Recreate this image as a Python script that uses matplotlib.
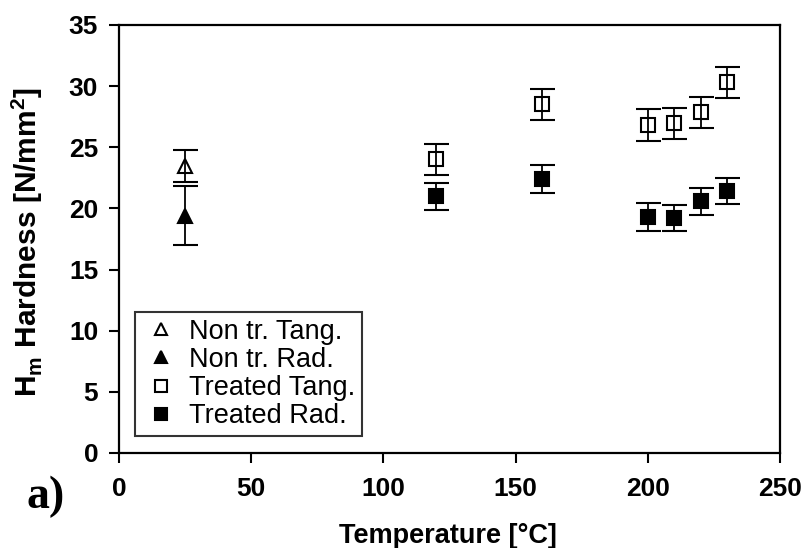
import matplotlib as mpl
mpl.use('Agg')
import matplotlib.pyplot as plt

# values
nontr_x = [25]
nontr_tang = [23.5]
nontr_tang_err = [1.3]
nontr_rad = [19.4]
nontr_rad_err = [2.4]

treated_x = [120, 160, 200, 210, 220, 230]
treated_tang = [24.0, 28.5, 26.8, 26.95, 27.85, 30.3]
treated_tang_err = [1.3, 1.3, 1.3, 1.3, 1.25, 1.25]
treated_rad = [21.0, 22.4, 19.3, 19.2, 20.6, 21.4]
treated_rad_err = [1.1, 1.15, 1.15, 1.05, 1.1, 1.05]

plt.rcParams['font.family'] = ['Liberation Sans', 'DejaVu Sans']
plt.rcParams['mathtext.fontset'] = 'custom'
plt.rcParams['mathtext.rm'] = 'Liberation Sans'

fig = plt.figure(figsize=(8.08, 5.48), dpi=100)
ax = fig.add_axes([0.1473, 0.1734, 0.8180, 0.7810])

common = dict(color='black', ecolor='black', elinewidth=1.3, capsize=9,
              capthick=1.3, linestyle='none', markeredgewidth=1.5)

ax.errorbar(nontr_x, nontr_tang, yerr=nontr_tang_err, marker='^', ms=10,
            mfc='none', mec='black', label='Non tr. Tang.', **common)
ax.errorbar(nontr_x, nontr_rad, yerr=nontr_rad_err, marker='^', ms=10,
            mfc='black', mec='black', label='Non tr. Rad.', **common)
ax.errorbar(treated_x, treated_tang, yerr=treated_tang_err, marker='s', ms=9.5,
            mfc='none', mec='black', label='Treated Tang.', **common)
ax.errorbar(treated_x, treated_rad, yerr=treated_rad_err, marker='s', ms=9.5,
            mfc='black', mec='black', label='Treated Rad.', **common)

ax.set_xlim(0, 250)
ax.set_ylim(0, 35)
ax.set_xticks(range(0, 251, 50))
ax.set_yticks(range(0, 36, 5))
ax.tick_params(direction='out', length=7, width=1.5, labelsize=19)
ax.tick_params(axis='x', pad=10)
ax.tick_params(axis='y', pad=8)
for lab in ax.get_xticklabels() + ax.get_yticklabels():
    lab.set_fontweight('bold')
for sp in ax.spines.values():
    sp.set_linewidth(1.6)

ax.set_xlabel('Temperature [\u00b0C]', fontsize=19.5, fontweight='bold')
ax.xaxis.set_label_coords(0.498, -0.163)
ax.set_ylabel(r'H$_\mathregular{m}$ Hardness [N/mm$^\mathregular{2}$]',
              fontsize=21.5, fontweight='bold')
ax.yaxis.set_label_coords(-0.112, 0.493)

handles, labels = ax.get_legend_handles_labels()
handles = [h[0] for h in handles]
leg = ax.legend(handles, labels, loc='lower left', bbox_to_anchor=(0.0242, 0.0397),
                fontsize=19.5, frameon=True, fancybox=False, edgecolor='black',
                handlelength=1.4, handletextpad=0.35, labelspacing=0.08,
                borderpad=0.25, borderaxespad=0, markerscale=0.9)
leg.get_frame().set_linewidth(1.5)

fig.text(0.033, 0.093, 'a)', fontsize=33, fontweight='bold',
         family=['Liberation Serif', 'DejaVu Serif'], ha='left', va='center')

fig.savefig('out.png', dpi=100)
